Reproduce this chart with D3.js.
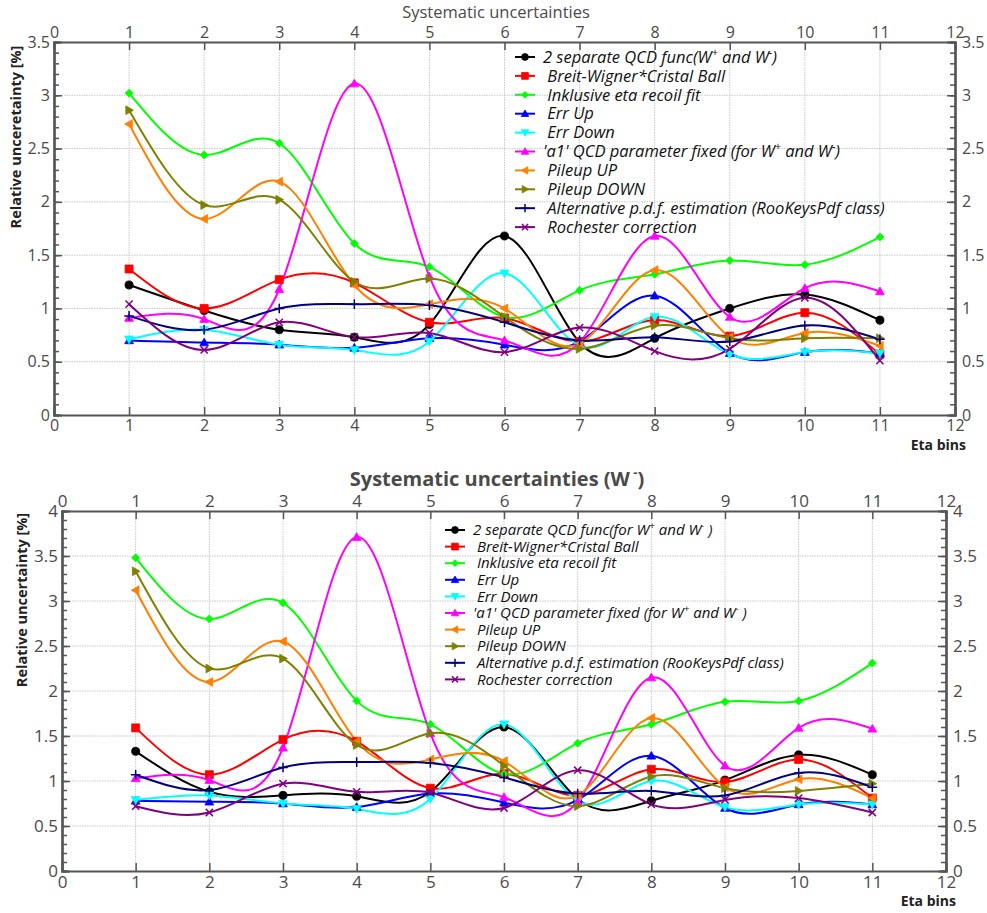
<!DOCTYPE html>
<html>
<head>
<meta charset="utf-8">
<script src="https://cdn.jsdelivr.net/npm/d3@7"></script>
<style>
  body { margin: 0; background: #fff; }
  svg { display: block; font-family: "Open Sans", "Noto Sans", sans-serif; }
</style>
</head>
<body>
<svg id="chart" width="987" height="913"></svg>
<script>
// Eta bins on the x axis
const etaBins = [1, 2, 3, 4, 5, 6, 7, 8, 9, 10, 11];
const xTicks = [0, 1, 2, 3, 4, 5, 6, 7, 8, 9, 10, 11, 12];

// Relative uncertainties [%] per eta bin, W+ panel
const wpQcdFunc   = [1.22, 0.98, 0.80, 0.73, 0.85, 1.68, 0.68, 0.72, 1.00, 1.13, 0.89];
const wpBreit     = [1.37, 1.00, 1.27, 1.24, 0.87, 0.91, 0.69, 0.89, 0.74, 0.96, 0.57];
const wpInklusive = [3.02, 2.44, 2.55, 1.61, 1.39, 0.92, 1.17, 1.32, 1.45, 1.41, 1.67];
const wpErrUp     = [0.70, 0.68, 0.66, 0.63, 0.72, 0.66, 0.69, 1.12, 0.58, 0.59, 0.58];
const wpErrDown   = [0.71, 0.80, 0.66, 0.61, 0.69, 1.33, 0.65, 0.92, 0.57, 0.59, 0.58];
const wpA1Fixed   = [0.91, 0.90, 1.18, 3.11, 1.30, 0.70, 0.68, 1.68, 0.92, 1.19, 1.16];
const wpPileupUp  = [2.73, 1.84, 2.19, 1.22, 1.04, 1.00, 0.67, 1.36, 0.73, 0.77, 0.65];
const wpPileupDn  = [2.86, 1.97, 2.02, 1.25, 1.28, 0.92, 0.62, 0.84, 0.72, 0.72, 0.72];
const wpAltPdf    = [0.93, 0.80, 1.00, 1.04, 1.03, 0.87, 0.70, 0.73, 0.69, 0.84, 0.71];
const wpRochester = [1.04, 0.61, 0.87, 0.73, 0.77, 0.59, 0.82, 0.60, 0.62, 1.10, 0.51];

// Relative uncertainties [%] per eta bin, W- panel
const wmQcdFunc   = [1.33, 0.88, 0.84, 0.83, 0.88, 1.60, 0.80, 0.78, 1.01, 1.29, 1.07];
const wmBreit     = [1.59, 1.07, 1.46, 1.44, 0.92, 1.08, 0.84, 1.13, 0.99, 1.24, 0.81];
const wmInklusive = [3.48, 2.80, 2.98, 1.89, 1.63, 1.08, 1.42, 1.63, 1.88, 1.89, 2.31];
const wmErrUp     = [0.78, 0.77, 0.75, 0.71, 0.86, 0.76, 0.79, 1.28, 0.70, 0.74, 0.74];
const wmErrDown   = [0.79, 0.84, 0.75, 0.69, 0.80, 1.63, 0.78, 1.00, 0.71, 0.74, 0.74];
const wmA1Fixed   = [1.03, 1.01, 1.37, 3.71, 1.53, 0.82, 0.77, 2.15, 1.17, 1.59, 1.58];
const wmPileupUp  = [3.12, 2.10, 2.55, 1.44, 1.24, 1.22, 0.84, 1.70, 0.93, 1.02, 0.81];
const wmPileupDn  = [3.33, 2.25, 2.36, 1.40, 1.53, 1.17, 0.72, 1.05, 0.92, 0.89, 0.97];
const wmAltPdf    = [1.07, 0.90, 1.15, 1.21, 1.20, 1.04, 0.86, 0.89, 0.84, 1.09, 0.93];
const wmRochester = [0.72, 0.65, 0.97, 0.88, 0.87, 0.70, 1.12, 0.74, 0.79, 0.81, 0.65];

// Legend labels (parts: [text, isSuperscript])
const labelsWp = [
  [["2 separate QCD func(W", 0], ["+", 1], [" and W", 0], ["-", 1], [")", 0]],
  [[" Breit-Wigner*Cristal Ball", 0]],
  [[" Inklusive eta recoil fit", 0]],
  [[" Err Up", 0]],
  [[" Err Down", 0]],
  [["'a1' QCD parameter fixed (for W", 0], ["+", 1], [" and W", 0], ["-", 1], [")", 0]],
  [[" Pileup UP", 0]],
  [[" Pileup DOWN", 0]],
  [[" Alternative p.d.f. estimation (RooKeysPdf class)", 0]],
  [[" Rochester correction", 0]]
];
const labelsWm = [
  [["2 separate QCD func(for W", 0], ["+", 1], [" and W", 0], ["-", 1], [" )", 0]],
  [[" Breit-Wigner*Cristal Ball", 0]],
  [[" Inklusive eta recoil fit", 0]],
  [[" Err Up", 0]],
  [[" Err Down", 0]],
  [["'a1' QCD parameter fixed (for W", 0], ["+", 1], [" and W", 0], ["-", 1], [" )", 0]],
  [[" Pileup UP", 0]],
  [[" Pileup DOWN", 0]],
  [[" Alternative p.d.f. estimation (RooKeysPdf class)", 0]],
  [[" Rochester correction", 0]]
];

const seriesColors  = ["#000000", "#ff0000", "#00ff00", "#0000ff", "#00ffff", "#ff00ff", "#ff8000", "#808000", "#000080", "#800080"];
const seriesMarkers = ["circle", "square", "diamond", "triUp", "triDown", "triUp", "triLeft", "triRight", "plus", "cross"];

const svg = d3.select("#chart");

function markerPath(type, s) {
  switch (type) {
    case "circle":   return d3.symbol(d3.symbolCircle, s * s * 0.8)();
    case "square":   return `M${-s/2},${-s/2}h${s}v${s}h${-s}Z`;
    case "diamond":  { const r = s * 0.5; return `M0,${-r}L${r},0L0,${r}L${-r},0Z`; }
    case "triUp":    { const r = s * 0.55; return `M0,${-r}L${r},${r*0.75}L${-r},${r*0.75}Z`; }
    case "triDown":  { const r = s * 0.55; return `M0,${r}L${r},${-r*0.75}L${-r},${-r*0.75}Z`; }
    case "triLeft":  { const r = s * 0.55; return `M${-r},0L${r*0.75},${-r}L${r*0.75},${r}Z`; }
    case "triRight": { const r = s * 0.55; return `M${r},0L${-r*0.75},${-r}L${-r*0.75},${r}Z`; }
    case "plus":     { const r = s * 0.6; return `M${-r},0H${r}M0,${-r}V${r}`; }
    case "cross":    { const r = s * 0.45; return `M${-r},${-r}L${r},${r}M${-r},${r}L${r},${-r}`; }
  }
}

function drawMarker(g, type, color, x, y, s) {
  const open = type === "plus" || type === "cross";
  g.append("path")
    .attr("d", markerPath(type, s))
    .attr("transform", `translate(${x},${y})`)
    .attr("fill", open ? "none" : color)
    .attr("stroke", color)
    .attr("stroke-width", open ? 1.5 : 0.8);
}

function drawPanel(cfg) {
  const x = d3.scaleLinear().domain([0, 12]).range([cfg.left, cfg.right]);
  const y = d3.scaleLinear().domain([0, cfg.yMax]).range([cfg.bottom, cfg.top]);
  const g = svg.append("g");
  const axisColor = "#555";
  const labelColor = "#4a4a4a";

  // grid
  const yGrid = d3.range(0.5, cfg.yMax, 0.5);
  g.append("g").selectAll("line").data(d3.range(1, 12)).join("line")
    .attr("x1", d => x(d)).attr("x2", d => x(d))
    .attr("y1", cfg.top).attr("y2", cfg.bottom)
    .attr("stroke", "#c8c8c8").attr("stroke-width", 1).attr("stroke-dasharray", "1.5,1");
  g.append("g").selectAll("line").data(yGrid).join("line")
    .attr("x1", cfg.left).attr("x2", cfg.right)
    .attr("y1", d => y(d)).attr("y2", d => y(d))
    .attr("stroke", "#c8c8c8").attr("stroke-width", 1).attr("stroke-dasharray", "1.5,1");

  // axes with inward ticks
  const yMinor = d3.range(0, cfg.yMax + 0.001, 0.1).map(v => +v.toFixed(2));
  const fmt = d => (d === Math.round(d) ? d3.format("d")(d) : d3.format(".1f")(d));
  const yMajor = d3.range(0, cfg.yMax + 0.001, 0.5);

  const axB = g.append("g").attr("transform", `translate(0,${cfg.bottom})`)
    .call(d3.axisBottom(x).tickValues(xTicks).tickSize(-8).tickPadding(5).tickFormat(d3.format("d")));
  const axT = g.append("g").attr("transform", `translate(0,${cfg.top})`)
    .call(d3.axisTop(x).tickValues(xTicks).tickSize(-8).tickPadding(4).tickFormat(d3.format("d")));
  const axL = g.append("g").attr("transform", `translate(${cfg.left},0)`)
    .call(d3.axisLeft(y).tickValues(yMajor).tickSize(-8).tickPadding(4).tickFormat(fmt));
  const axR = g.append("g").attr("transform", `translate(${cfg.right},0)`)
    .call(d3.axisRight(y).tickValues(yMajor).tickSize(-8).tickPadding(7).tickFormat(fmt));
  g.append("g").attr("transform", `translate(${cfg.left},0)`)
    .call(d3.axisLeft(y).tickValues(yMinor).tickSize(-5).tickFormat(""));
  g.append("g").attr("transform", `translate(${cfg.right},0)`)
    .call(d3.axisRight(y).tickValues(yMinor).tickSize(-5).tickFormat(""));

  g.selectAll(".domain").attr("stroke", axisColor).attr("stroke-width", 2.2);
  g.selectAll(".tick line").attr("stroke", axisColor).attr("stroke-width", 1.5);
  [axB, axT, axL, axR].forEach(a => a.selectAll("text")
    .attr("font-size", cfg.tickFont).attr("fill", labelColor)
    .attr("font-family", "'Open Sans', sans-serif"));
  // ticks at the frame corners are hidden by the frame itself
  [axB, axT].forEach(a => a.selectAll(".tick line").filter(d => d === 0 || d === 12).remove());
  [axL, axR].forEach(a => a.selectAll(".tick line").filter(d => d === 0 || d === cfg.yMax).remove());

  // series curves
  const line = d3.line().x((d, i) => x(etaBins[i])).y(d => y(d)).curve(d3.curveNatural);
  cfg.series.forEach((vals, k) => {
    g.append("path").datum(vals).attr("d", line)
      .attr("fill", "none").attr("stroke", seriesColors[k]).attr("stroke-width", 2);
  });
  cfg.series.forEach((vals, k) => {
    vals.forEach((v, i) => drawMarker(g, seriesMarkers[k], seriesColors[k], x(etaBins[i]), y(v), cfg.markerSize));
  });

  // legend
  const lg = g.append("g");
  cfg.labels.forEach((parts, k) => {
    const ly = cfg.legY + k * cfg.legDy;
    lg.append("line").attr("x1", cfg.legX - 10).attr("x2", cfg.legX + 10)
      .attr("y1", ly).attr("y2", ly).attr("stroke", seriesColors[k]).attr("stroke-width", 2);
    drawMarker(lg, seriesMarkers[k], seriesColors[k], cfg.legX, ly, cfg.markerSize * 0.85);
    const t = lg.append("text").attr("x", cfg.legX + 18).attr("y", ly).attr("dy", "0.35em")
      .attr("font-size", cfg.legFont).attr("font-style", "italic").attr("fill", "#111")
      .attr("xml:space", "preserve").style("white-space", "pre");
    parts.forEach(([txt, sup]) => {
      const s = t.append("tspan").text(txt);
      if (sup) s.attr("font-size", cfg.legFont * 0.65).attr("baseline-shift", "super");
    });
  });

  // titles
  g.append("text").attr("x", cfg.titleX).attr("y", cfg.titleY).attr("text-anchor", "middle")
    .attr("dy", "0.35em").attr("font-size", cfg.titleFont).attr("font-weight", cfg.titleWeight)
    .attr("fill", labelColor).attr("xml:space", "preserve").style("white-space", "pre")
    .each(function () {
      const t = d3.select(this);
      cfg.title.forEach(([txt, sup]) => {
        const s = t.append("tspan").text(txt);
        if (sup) s.attr("font-size", cfg.titleFont * 0.65).attr("baseline-shift", "super");
      });
    });
  g.append("text").attr("x", cfg.xLabelX).attr("y", cfg.xLabelY).attr("text-anchor", "end")
    .attr("dy", "0.35em").attr("font-size", 14).attr("font-weight", "bold").attr("fill", "#222")
    .text("Eta bins");
  g.append("text").attr("transform", `translate(${cfg.yLabelX},${cfg.yLabelY}) rotate(-90)`)
    .attr("text-anchor", "middle").attr("dy", "0.35em").attr("font-size", 14.5)
    .attr("font-weight", "bold").attr("fill", "#222").text(cfg.yLabel);
}

drawPanel({
  left: 54, right: 955, top: 42, bottom: 415, yMax: 3.5,
  series: [wpQcdFunc, wpBreit, wpInklusive, wpErrUp, wpErrDown, wpA1Fixed, wpPileupUp, wpPileupDn, wpAltPdf, wpRochester],
  labels: labelsWp, legX: 525, legY: 57, legDy: 18.9, legFont: 16.5,
  markerSize: 8, tickFont: 16,
  title: [["Systematic uncertainties", 0]], titleX: 496, titleY: 12, titleFont: 16.5, titleWeight: "normal",
  xLabelX: 966, xLabelY: 445, yLabelX: 16, yLabelY: 137, yLabel: "Relative unceretainty [%]"
});

drawPanel({
  left: 62, right: 946, top: 511, bottom: 871, yMax: 4,
  series: [wmQcdFunc, wmBreit, wmInklusive, wmErrUp, wmErrDown, wmA1Fixed, wmPileupUp, wmPileupDn, wmAltPdf, wmRochester],
  labels: labelsWm, legX: 455, legY: 530, legDy: 16.6, legFont: 15,
  markerSize: 8, tickFont: 17,
  title: [["Systematic uncertainties (W", 0], [" -", 1], [")", 0]], titleX: 497, titleY: 479, titleFont: 20, titleWeight: "bold",
  xLabelX: 956, xLabelY: 901, yLabelX: 22, yLabelY: 600, yLabel: "Relative uncertainty [%]"
});
</script>
</body>
</html>
